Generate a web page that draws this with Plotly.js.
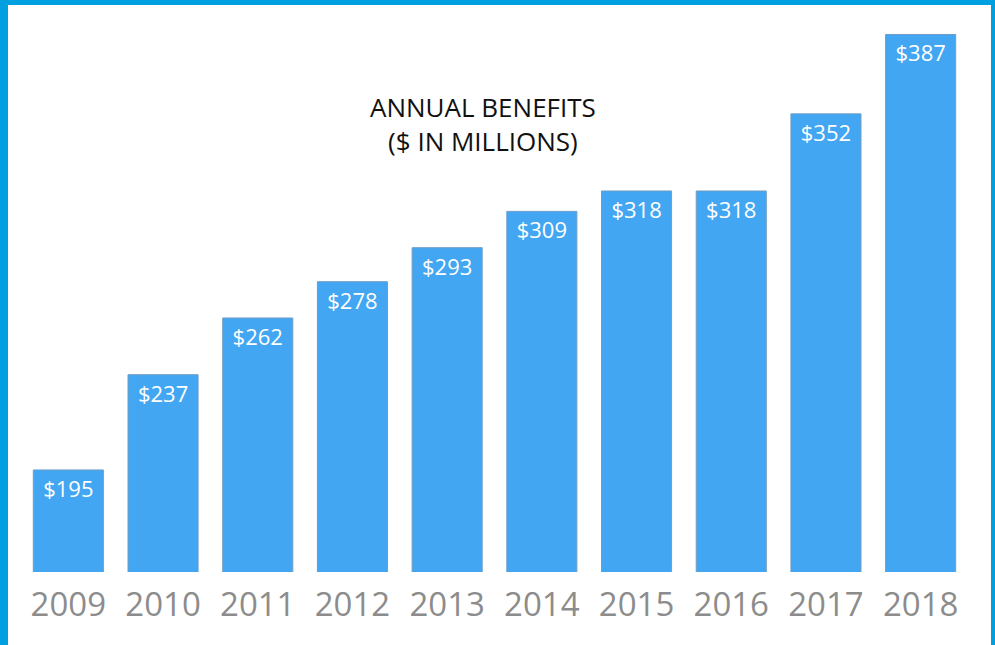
<!DOCTYPE html>
<html>
<head>
<meta charset="utf-8">
<script src="https://cdn.plot.ly/plotly-3.0.1.min.js"></script>
<style>
html,body{margin:0;padding:0;background:#fff;}
#frame{position:absolute;left:0;top:0;width:995px;height:645px;box-sizing:border-box;border-top:5px solid #00A0E0;border-left:8px solid #00A0E0;border-right:4px solid #00A0E0;}
#chart{position:absolute;left:0;top:0;width:995px;height:645px;}
</style>
</head>
<body>
<div id="chart"></div>
<div id="frame"></div>
<script>
var years = ['2009','2010','2011','2012','2013','2014','2015','2016','2017','2018'];
var benefits = [195, 237, 262, 278, 293, 309, 318, 318, 352, 387];
var labels = ['$195','$237','$262','$278','$293','$309','$318','$318','$352','$387'];
var chartTitle = 'ANNUAL BENEFITS<br>($ IN MILLIONS)';

var trace = {
  type: 'bar',
  x: years,
  y: benefits,
  text: labels,
  texttemplate: '%{text}',
  textposition: 'inside',
  insidetextanchor: 'end',
  textangle: 0,
  constraintext: 'none',
  textfont: {family: 'Open Sans, sans-serif', size: 22, color: '#ffffff'},
  marker: {color: '#42A6F2', line: {color: '#6F9DC6', width: 1}},
  hoverinfo: 'none',
  cliponaxis: true
};

var layout = {
  width: 995,
  height: 645,
  margin: {l: 21, r: 27, t: 5, b: 73, pad: 0},
  paper_bgcolor: '#ffffff',
  plot_bgcolor: '#ffffff',
  bargap: 0.26,
  showlegend: false,
  xaxis: {
    type: 'category',
    range: [-0.5, 9.5],
    showgrid: false,
    zeroline: false,
    showline: false,
    ticks: '',
    ticklen: 0,
    ticklabelstandoff: 10,
    tickfont: {family: 'Open Sans, sans-serif', size: 33, color: '#8c8c8c'},
    fixedrange: true
  },
  yaxis: {
    range: [150, 400],
    showgrid: false,
    zeroline: false,
    showline: false,
    showticklabels: false,
    ticks: '',
    fixedrange: true
  },
  annotations: [{
    xref: 'paper', yref: 'paper',
    x: 0.488, y: 0.791,
    xanchor: 'center', yanchor: 'middle',
    text: chartTitle,
    showarrow: false,
    align: 'center',
    font: {family: 'Open Sans, sans-serif', size: 26, color: '#111111'}
  }]
};

Plotly.newPlot('chart', [trace], layout, {displayModeBar: false, staticPlot: true});
</script>
</body>
</html>
